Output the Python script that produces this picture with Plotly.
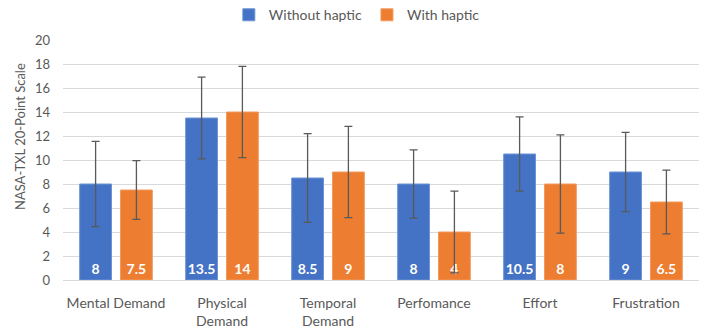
import plotly.graph_objects as go

categories = ["Mental Demand", "Physical<br>Demand", "Temporal<br>Demand", "Perfomance", "Effort", "Frustration"]
without_haptic = [8, 13.5, 8.5, 8, 10.5, 9]
with_haptic = [7.5, 14, 9, 4, 8, 6.5]
err_without = [3.55, 3.4, 3.7, 2.85, 3.1, 3.3]
err_with = [2.45, 3.8, 3.8, 3.4, 4.1, 2.65]
y_title = "NASA-TXL 20-Point Scale"

FONT = "Lato"
GREY = "#595959"

fig = go.Figure()
for name, vals, errs, color, line in [
    ("Without haptic", without_haptic, err_without, "#4472C4", "#6e93d6"),
    ("With haptic", with_haptic, err_with, "#ED7D31", "#f29a5e"),
]:
    fig.add_trace(go.Bar(
        name=name, x=categories, y=vals,
        marker=dict(color=color, line=dict(color=line, width=1)),
        error_y=dict(type="data", array=errs, visible=True, color=GREY, thickness=1.3, width=4),
        text=[str(v) for v in vals], textposition="inside", insidetextanchor="start",
        constraintext="none",
        textfont=dict(family=FONT, size=14, color="white", weight="bold"),
        textangle=0, cliponaxis=False,
    ))

fig.update_layout(
    width=702, height=330,
    margin=dict(l=63, r=3, t=40, b=50, autoexpand=False),
    paper_bgcolor="white", plot_bgcolor="white",
    barmode="group", bargap=0.23, bargroupgap=0.22,
    font=dict(family=FONT, color=GREY, size=13),
    legend=dict(orientation="h", x=0.462, xanchor="center", y=1.17, yanchor="top",
                yref="paper", font=dict(size=14, color=GREY),
                traceorder="normal", itemwidth=30),
    annotations=[dict(text=y_title, textangle=-90, xref="paper", yref="paper",
                      x=-0.0675, y=0.596, xanchor="center", yanchor="middle",
                      showarrow=False, font=dict(size=13, color=GREY, family=FONT))],
)
fig.update_xaxes(showline=True, linecolor="#d9d9d9", linewidth=1, ticks="", automargin=False,
                 ticklabelstandoff=10, tickfont=dict(size=14, color=GREY))
fig.update_yaxes(range=[0, 20], dtick=2, showgrid=True, gridcolor="#d9d9d9", gridwidth=1,
                 zeroline=False, ticks="", automargin=False, ticklabelstandoff=12,
                 tickfont=dict(size=13, color=GREY))

fig.write_html("out.html", post_script="document.body.style.margin='0';",
               config={"displayModeBar": False})
